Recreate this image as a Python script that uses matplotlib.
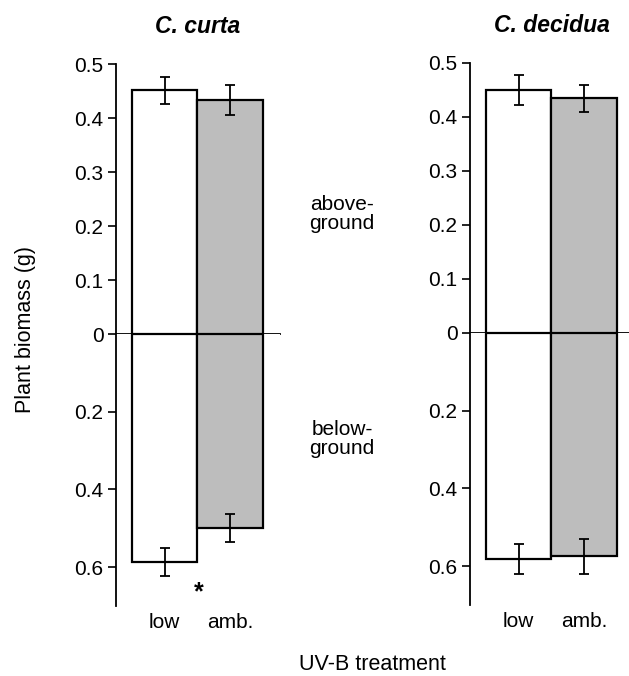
import matplotlib
matplotlib.use("Agg")
import matplotlib.pyplot as plt

# UV-B treatments and biomass (g), means with standard errors
treatments = ["low", "amb."]

curta_above = [0.451, 0.433]
curta_above_se = [0.025, 0.028]
curta_below = [0.588, 0.499]
curta_below_se = [0.036, 0.037]

decidua_above = [0.450, 0.435]
decidua_above_se = [0.027, 0.025]
decidua_below = [0.581, 0.575]
decidua_below_se = [0.039, 0.044]

above_ticks = [0, 0.1, 0.2, 0.3, 0.4, 0.5]
below_ticks = [0.2, 0.4, 0.6]

plt.rcParams["font.family"] = ["Liberation Sans", "DejaVu Sans"]

W, H = 629, 676
fig = plt.figure(figsize=(W / 100, H / 100), dpi=100)

fills = ["white", "#bdbdbd"]
XLIM = (-0.74, 1.76)


def style_y(ax, ticks):
    ax.set_yticks(ticks)
    ax.set_yticklabels([f"{t:g}" for t in ticks])
    ax.tick_params(axis="y", direction="out", length=6, width=1.2,
                   labelsize=15, pad=3)
    for side in ("top", "right"):
        ax.spines[side].set_visible(False)
    ax.spines["left"].set_linewidth(1.3)


def panel(left_px, top_px, zero_px, bottom_px, above, above_se,
          below, below_se, title, star=False):
    x = list(range(len(treatments)))
    l = left_px / W
    w = 164 / W
    ax_top = fig.add_axes([l, 1 - zero_px / H, w, (zero_px - top_px) / H])
    ax_bot = fig.add_axes([l, 1 - bottom_px / H, w, (bottom_px - zero_px) / H])

    for ax, vals, se in ((ax_top, above, above_se), (ax_bot, below, below_se)):
        ax.bar(x, vals, width=1.0, color=fills, edgecolor="black",
               linewidth=1.6, zorder=1)
        ax.errorbar(x, vals, yerr=se, fmt="none", ecolor="black",
                    elinewidth=1.3, capsize=3.5, capthick=1.3, zorder=3)
        ax.set_xlim(*XLIM)

    ax_top.set_ylim(0, 0.5)
    style_y(ax_top, above_ticks)
    ax_top.set_xticks([])
    ax_top.spines["bottom"].set_linewidth(1.3)
    ax_top.spines["bottom"].set_zorder(4)
    ax_top.set_title(title, fontsize=16.5, fontweight="bold", style="italic",
                     pad=22)

    ax_bot.set_ylim(0.7, 0)
    style_y(ax_bot, below_ticks)
    ax_bot.spines["bottom"].set_visible(False)
    ax_bot.set_xticks(x)
    ax_bot.set_xticklabels(treatments)
    ax_bot.tick_params(axis="x", length=0, labelsize=15, pad=5)

    if star:
        ax_bot.text(0.52, 0.665, "*", ha="center", va="center", fontsize=18,
                    fontweight="bold")
    return ax_top, ax_bot


panel(116, 64, 334, 606, curta_above, curta_above_se,
      curta_below, curta_below_se, "C. curta", star=True)
panel(470, 63, 333, 605, decidua_above, decidua_above_se,
      decidua_below, decidua_below_se, "C. decidua")

fig.text(342 / W, 1 - 214 / H, "above-\nground", ha="center", va="center",
         fontsize=15, linespacing=1.05)
fig.text(342 / W, 1 - 439 / H, "below-\nground", ha="center", va="center",
         fontsize=15, linespacing=1.05)
fig.text(26 / W, 1 - 330 / H, "Plant biomass (g)", rotation=90,
         ha="center", va="center", fontsize=15.5)
fig.text(372 / W, 1 - 664 / H, "UV-B treatment", ha="center", va="center",
         fontsize=15.5)

fig.savefig("out.png", dpi=100)
